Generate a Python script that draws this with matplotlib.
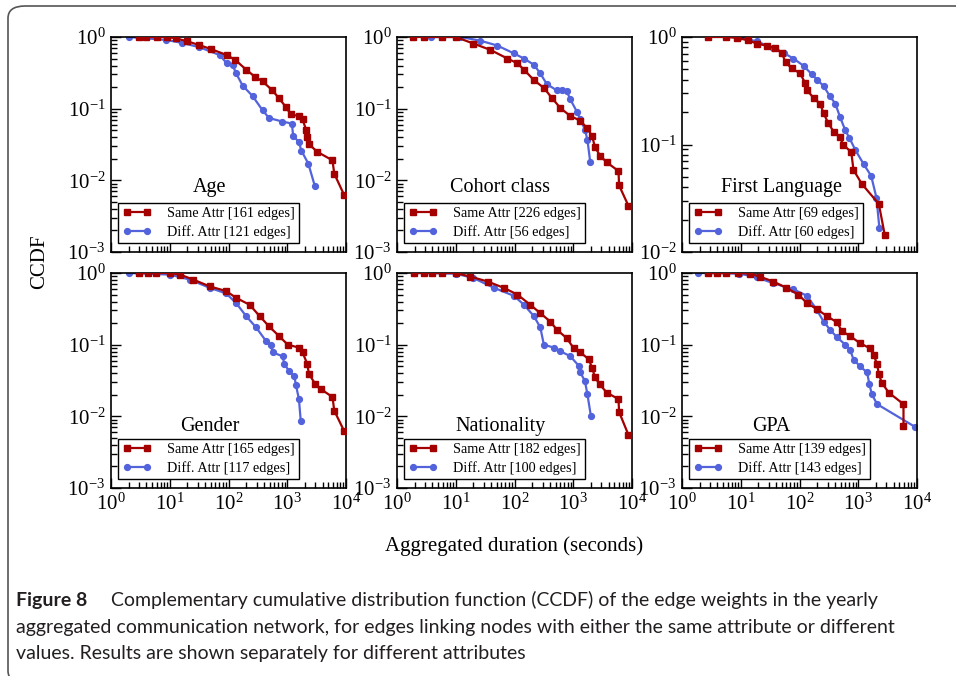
import matplotlib
matplotlib.use("Agg")
import matplotlib.pyplot as plt
from matplotlib.patches import FancyBboxPatch
from matplotlib.ticker import LogLocator, NullFormatter

plt.rcParams['font.family'] = ['Liberation Serif', 'DejaVu Serif']
plt.rcParams['mathtext.fontset'] = 'custom'
plt.rcParams['mathtext.rm'] = 'Liberation Serif'
plt.rcParams['mathtext.it'] = 'Liberation Serif:italic'
plt.rcParams['axes.unicode_minus'] = False

RED = '#a40000'
BLUE = '#5263db'

# ---- data (duration in seconds, CCDF) ----
age_same_x = [3, 4, 6, 9, 13, 20, 32, 50, 93, 130, 200, 280, 380, 560, 720, 955, 1150,
              1580, 1820, 2090, 2190, 2340, 3240, 5890, 6310, 9330]
age_same_y = [1, 1, 1, 1, 0.955, 0.87, 0.77, 0.68, 0.56, 0.48, 0.35, 0.28, 0.24, 0.18, 0.14,
              0.105, 0.083, 0.079, 0.071, 0.051, 0.040, 0.032, 0.025, 0.019, 0.0124, 0.0062]
age_diff_x = [2, 8.7, 16, 32, 71, 93, 117, 135, 174, 257, 380, 490, 830, 1200, 1260, 1580,
              1740, 2290, 2950]
age_diff_y = [1, 0.91, 0.83, 0.72, 0.56, 0.43, 0.41, 0.31, 0.21, 0.15, 0.095, 0.074, 0.066,
              0.062, 0.042, 0.034, 0.026, 0.017, 0.0083]

cohort_same_x = [1.9, 2.9, 5.9, 10, 20, 39, 76, 112, 145, 214, 316, 437, 603, 891, 1320, 1700,
                 2090, 2340, 2880, 3720, 5890, 6030, 8710]
cohort_same_y = [1, 1, 1, 1, 0.81, 0.66, 0.5, 0.43, 0.35, 0.25, 0.195, 0.14, 0.102, 0.079,
                 0.068, 0.054, 0.042, 0.029, 0.022, 0.0178, 0.0135, 0.0085, 0.0044]
cohort_diff_x = [3.8, 12, 26, 51, 98, 145, 214, 275, 355, 525, 646, 776, 891, 1150, 1320,
                 1580, 1740, 1950]
cohort_diff_y = [1, 1, 0.89, 0.76, 0.59, 0.5, 0.41, 0.31, 0.22, 0.18, 0.18, 0.174, 0.135,
                 0.091, 0.071, 0.051, 0.037, 0.0178]

lang_same_x = [2.8, 5.6, 8.7, 13.5, 18.6, 27.5, 39, 50, 58, 74, 102, 126, 135, 174, 224, 257,
               309, 380, 490, 550, 760, 830, 1150, 2240, 2820]
lang_same_y = [1, 1, 0.98, 0.93, 0.87, 0.83, 0.79, 0.71, 0.58, 0.51, 0.46, 0.37, 0.32, 0.27,
               0.24, 0.195, 0.158, 0.132, 0.117, 0.1, 0.085, 0.058, 0.043, 0.028, 0.0145]
lang_diff_x = [9.5, 18.6, 36, 54, 79, 117, 162, 200, 257, 331, 407, 490, 603, 708, 891, 1230,
               1660, 2040, 2290]
lang_diff_y = [1, 0.91, 0.79, 0.71, 0.63, 0.54, 0.45, 0.4, 0.35, 0.28, 0.24, 0.18, 0.135,
               0.115, 0.089, 0.066, 0.051, 0.032, 0.0167]

gender_same_x = [3, 4.3, 5.9, 10, 15, 25, 48, 91, 135, 229, 339, 490, 724, 1020, 1580, 1820,
                 2190, 2340, 3020, 3720, 5890, 6310, 9330]
gender_same_y = [1, 1, 1, 1, 0.95, 0.81, 0.65, 0.56, 0.45, 0.36, 0.25, 0.18, 0.132, 0.1,
                 0.091, 0.078, 0.054, 0.039, 0.028, 0.024, 0.0186, 0.012, 0.0062]
gender_diff_x = [2, 10, 22, 48, 91, 135, 200, 295, 437, 525, 562, 832, 891, 1070, 1320, 1410,
                 1580, 1700]
gender_diff_y = [1, 0.95, 0.81, 0.62, 0.52, 0.38, 0.25, 0.174, 0.112, 0.1, 0.078, 0.069,
                 0.054, 0.043, 0.036, 0.027, 0.0174, 0.0085]

nat_same_x = [1.95, 2.9, 3.9, 5.9, 10, 17.8, 35, 66, 112, 186, 275, 407, 525, 776, 1020, 1320,
              1820, 2090, 2340, 2820, 3720, 5890, 6030, 8710]
nat_same_y = [1, 1, 1, 1, 1, 0.89, 0.76, 0.62, 0.5, 0.36, 0.275, 0.21, 0.162, 0.123, 0.089,
              0.078, 0.063, 0.048, 0.035, 0.028, 0.0214, 0.0174, 0.0115, 0.0055]
nat_diff_x = [1.95, 10, 20, 45, 98, 145, 214, 275, 316, 468, 603, 891, 1260, 1320, 1580, 1740,
              2000]
nat_diff_y = [1, 0.98, 0.85, 0.62, 0.48, 0.36, 0.25, 0.174, 0.1, 0.091, 0.081, 0.069, 0.05,
              0.041, 0.031, 0.0204, 0.01]

gpa_same_x = [2.8, 3.9, 5.6, 9.1, 14.5, 21, 36, 60, 95, 135, 200, 295, 437, 525, 724, 1070,
              1580, 1820, 2090, 2240, 2510, 3310, 5890, 5890]
gpa_same_y = [1, 1, 1, 1, 0.98, 0.89, 0.76, 0.62, 0.5, 0.38, 0.31, 0.25, 0.204, 0.155, 0.132,
              0.105, 0.089, 0.072, 0.054, 0.039, 0.0295, 0.0214, 0.0148, 0.0074]
gpa_diff_x = [1.9, 9.5, 18.6, 36, 79, 135, 200, 257, 331, 437, 603, 724, 832, 1070, 1410, 1550,
              1700, 2090, 9330]
gpa_diff_y = [1, 0.98, 0.87, 0.72, 0.59, 0.48, 0.3, 0.21, 0.162, 0.126, 0.1, 0.085, 0.062,
              0.05, 0.041, 0.028, 0.0204, 0.0148, 0.0071]

titles = ['Age', 'Cohort class', 'First Language', 'Gender', 'Nationality', 'GPA']
same_edges = [161, 226, 69, 165, 182, 139]
diff_edges = [121, 56, 60, 117, 100, 143]
ymins = [1e-3, 1e-3, 1e-2, 1e-3, 1e-3, 1e-3]
title_pos = [(0.42, 0.30), (0.44, 0.30), (0.425, 0.30),
             (0.42, 0.285), (0.44, 0.285), (0.38, 0.285)]

series = [(age_same_x, age_same_y, age_diff_x, age_diff_y),
          (cohort_same_x, cohort_same_y, cohort_diff_x, cohort_diff_y),
          (lang_same_x, lang_same_y, lang_diff_x, lang_diff_y),
          (gender_same_x, gender_same_y, gender_diff_x, gender_diff_y),
          (nat_same_x, nat_same_y, nat_diff_x, nat_diff_y),
          (gpa_same_x, gpa_same_y, gpa_diff_x, gpa_diff_y)]

W, H = 956, 676
fig = plt.figure(figsize=(W / 100, H / 100), dpi=100)

# rounded frame around figure + caption
frame = FancyBboxPatch((8 / W, 1 - 683 / H), (990 - 8) / W, (683 - 6) / H,
                       boxstyle="round,pad=0,rounding_size=0.018",
                       transform=fig.transFigure, fill=False, ec='#555555', lw=1.2)
fig.patches.append(frame)

lefts = [111, 397, 682]
tops = [37, 273]
aw, ah = 235, 215

for i in range(6):
    r, c = divmod(i, 3)
    ax = fig.add_axes([lefts[c] / W, 1 - (tops[r] + ah) / H, aw / W, ah / H])
    sx, sy, dx, dy = series[i]
    ax.plot(sx, sy, color=RED, lw=1.6, marker='s', ms=4.5, mec=RED,
            label='Same Attr [%d edges]' % same_edges[i], zorder=3)
    ax.plot(dx, dy, color=BLUE, lw=1.6, marker='o', ms=4.2, mec=BLUE,
            label='Diff. Attr [%d edges]' % diff_edges[i], zorder=2)
    ax.set_xscale('log')
    ax.set_yscale('log')
    ax.set_xlim(1, 1e4)
    ax.set_ylim(ymins[i], 1)
    ax.xaxis.set_major_locator(LogLocator(base=10, numticks=10))
    ax.xaxis.set_minor_locator(LogLocator(base=10, subs=range(2, 10), numticks=100))
    ax.yaxis.set_minor_locator(LogLocator(base=10, subs=range(2, 10), numticks=100))
    ax.yaxis.set_minor_formatter(NullFormatter())
    ax.xaxis.set_minor_formatter(NullFormatter())
    ax.tick_params(which='both', direction='in', labelsize=15, width=1)
    ax.tick_params(which='major', length=7, pad=4)
    ax.tick_params(which='minor', length=4)
    if r == 0:
        ax.tick_params(axis='x', labelbottom=False)
    for sp in ax.spines.values():
        sp.set_linewidth(1.2)
    ax.text(title_pos[i][0], title_pos[i][1], titles[i], transform=ax.transAxes,
            ha='center', va='center', fontsize=14.5)
    leg = ax.legend(loc='lower left', bbox_to_anchor=(0.03, 0.04), borderaxespad=0,
                    fontsize=10.3, numpoints=2, handlelength=2.0, handletextpad=1.1,
                    labelspacing=0.35, borderpad=0.3, fancybox=False, framealpha=1)
    leg.get_frame().set_edgecolor('black')
    leg.get_frame().set_linewidth(1.0)

fig.text(40 / W, 1 - 262 / H, 'CCDF', rotation=90, ha='center', va='center', fontsize=15)
fig.text(514 / W, 1 - 546 / H, 'Aggregated duration (seconds)', ha='center', va='center',
         fontsize=15)

# caption
cap_font = ['Lato', 'DejaVu Sans']
cap_col = '#231f20'
cap_size = 14
fig.text(16 / W, 1 - 606 / H, 'Figure 8', family=cap_font, fontweight='bold', fontsize=cap_size,
         color=cap_col, va='baseline')
fig.text(111 / W, 1 - 606 / H,
         'Complementary cumulative distribution function (CCDF) of the edge weights in the yearly',
         family=cap_font, fontsize=cap_size, color=cap_col, va='baseline')
fig.text(16 / W, 1 - 633 / H,
         'aggregated communication network, for edges linking nodes with either the same attribute or different',
         family=cap_font, fontsize=cap_size, color=cap_col, va='baseline')
fig.text(16 / W, 1 - 659 / H, 'values. Results are shown separately for different attributes',
         family=cap_font, fontsize=cap_size, color=cap_col, va='baseline')

fig.savefig('out.png', dpi=100)
